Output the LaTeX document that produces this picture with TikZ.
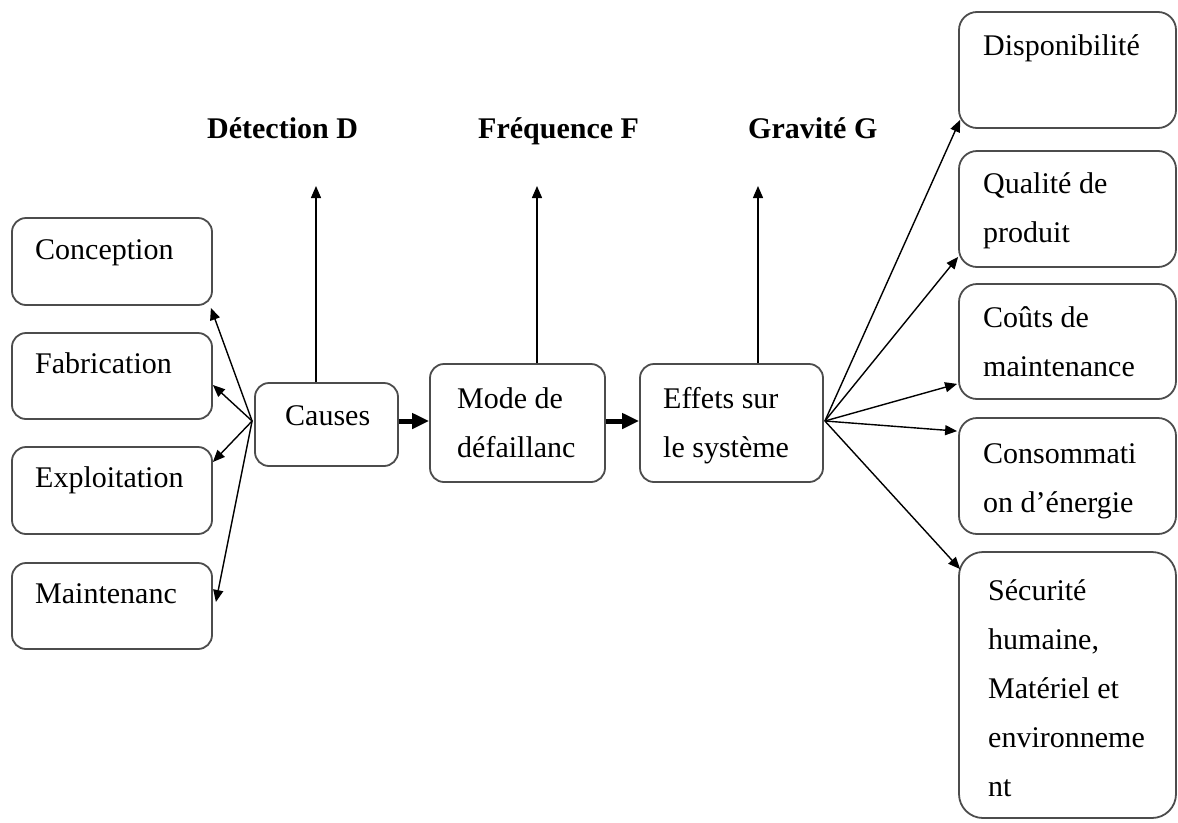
\documentclass[tikz,border=0pt]{standalone}
\usepackage{fontspec}
\setmainfont{Liberation Serif}
\usetikzlibrary{arrows.meta,calc,fit}

% invisible strut fixing the height of a first line
\newcommand{\firstline}{\rule{0pt}{26pt}}

\begin{document}
\begin{tikzpicture}[x=1pt,y=-1pt,
  boxframe/.style={draw=black!70, line width=1.8pt, rounded corners=14pt, inner sep=0pt},
  bigframe/.style={boxframe, rounded corners=18pt},
  boxtext/.style={anchor=north west, inner sep=0pt, align=left,
                  font=\fontsize{30}{49}\selectfont},
  headtext/.style={anchor=base west, inner sep=0pt,
                   font=\fontsize{30}{36}\selectfont\bfseries},
  link/.style={line width=1.4pt, -{Triangle[length=12pt,width=10pt]}},
  flow/.style={line width=5pt, -{Triangle[length=17pt,width=15pt]}}
]
\useasboundingbox (0,0) rectangle (1178,822);

% ---- origin boxes (left column) ----
\node[boxframe, fit={(12,218) (212,305)}] (concep) {};
\node[boxframe, fit={(12,333) (212,419)}] (fabri) {};
\node[boxframe, fit={(12,447) (212,534)}] (exploit) {};
\node[boxframe, fit={(12,563) (212,649)}] (maint) {};
\node[boxtext] (tconcep) at (35,233) {\firstline Conception};
\node[boxtext] (tfabri) at (35,347) {\firstline Fabrication};
\node[boxtext] (texploit) at (35,461) {\firstline Exploitation};
\node[boxtext] (tmaint) at (35,577) {\firstline Maintenanc};

% ---- main chain ----
\node[boxframe, fit={(255,383) (398,466)}] (causes) {};
\node[boxframe, fit={(430,364) (605,482)}] (mode) {};
\node[boxframe, fit={(640,364) (823,482)}] (effets) {};
\node[boxtext] (tcauses) at (285,399) {\firstline Causes};
\node[boxtext] (tmode) at (457,382) {\firstline Mode de\\défaillanc};
\node[boxtext] (teffets) at (663,382) {\firstline Effets sur\\le système};

% ---- consequence boxes (right column) ----
\node[bigframe, fit={(959,12) (1176,128)}] (dispo) {};
\node[bigframe, fit={(959,151) (1176,267)}] (qual) {};
\node[bigframe, fit={(959,284) (1176,399)}] (couts) {};
\node[bigframe, fit={(959,418) (1176,534)}] (conso) {};
\node[bigframe, rounded corners=24pt, fit={(959,552) (1176,818)}] (secu) {};
\node[boxtext] (tdispo) at (983,29) {\firstline Disponibilité};
\node[boxtext] (tqual) at (983,167) {\firstline Qualité de\\produit};
\node[boxtext] (tcouts) at (983,301) {\firstline Coûts de\\maintenance};
\node[boxtext] (tconso) at (983,437) {\firstline Consommati\\on d’énergie};
\node[boxtext] (tsecu) at (988,574) {\firstline Sécurité\\humaine,\\Matériel et\\environneme\\nt};

% ---- criteria headings ----
\node[headtext] (hD) at (207,138) {Détection D};
\node[headtext] (hF) at (478,138) {Fréquence F};
\node[headtext] (hG) at (748,138) {Gravité G};

% ---- fan points and arrow tips ----
\coordinate (cfan) at ($(causes.west)+(-2,-3.5)$);
\coordinate (efan) at ($(effets.east)+(1,-2)$);
\coordinate (dtip) at (316,186);
\coordinate (ftip) at (537,186);
\coordinate (gtip) at (758,186);

% causes fan out to their origins
\draw[link] (cfan) -- ($(concep.south east)+(-2,2)$);
\draw[link] (cfan) -- ($(fabri.east)+(0,9)$);
\draw[link] (cfan) -- ($(exploit.east)+(0,-28.5)$);
\draw[link] (cfan) -- ($(maint.east)+(3,-4)$);

% main flow
\draw[flow] (causes.east |- cfan) -- (mode.west |- cfan);
\draw[flow] (mode.east |- cfan) -- (effets.west |- cfan);

% criteria arrows
\draw[link] (dtip |- causes.north) -- (dtip);
\draw[link] (ftip |- mode.north) -- (ftip);
\draw[link] (gtip |- effets.north) -- (gtip);

% effects fan out to consequences
\draw[link] (efan) -- ($(dispo.south west)+(2,-9)$);
\draw[link] (efan) -- ($(qual.south west)+(0,-11)$);
\draw[link] (efan) -- ($(couts.south west)+(-1,-16)$);
\draw[link] (efan) -- ($(conso.north west)+(-1,14)$);
\draw[link] (efan) -- ($(secu.north west)+(2,18)$);
\end{tikzpicture}
\end{document}
